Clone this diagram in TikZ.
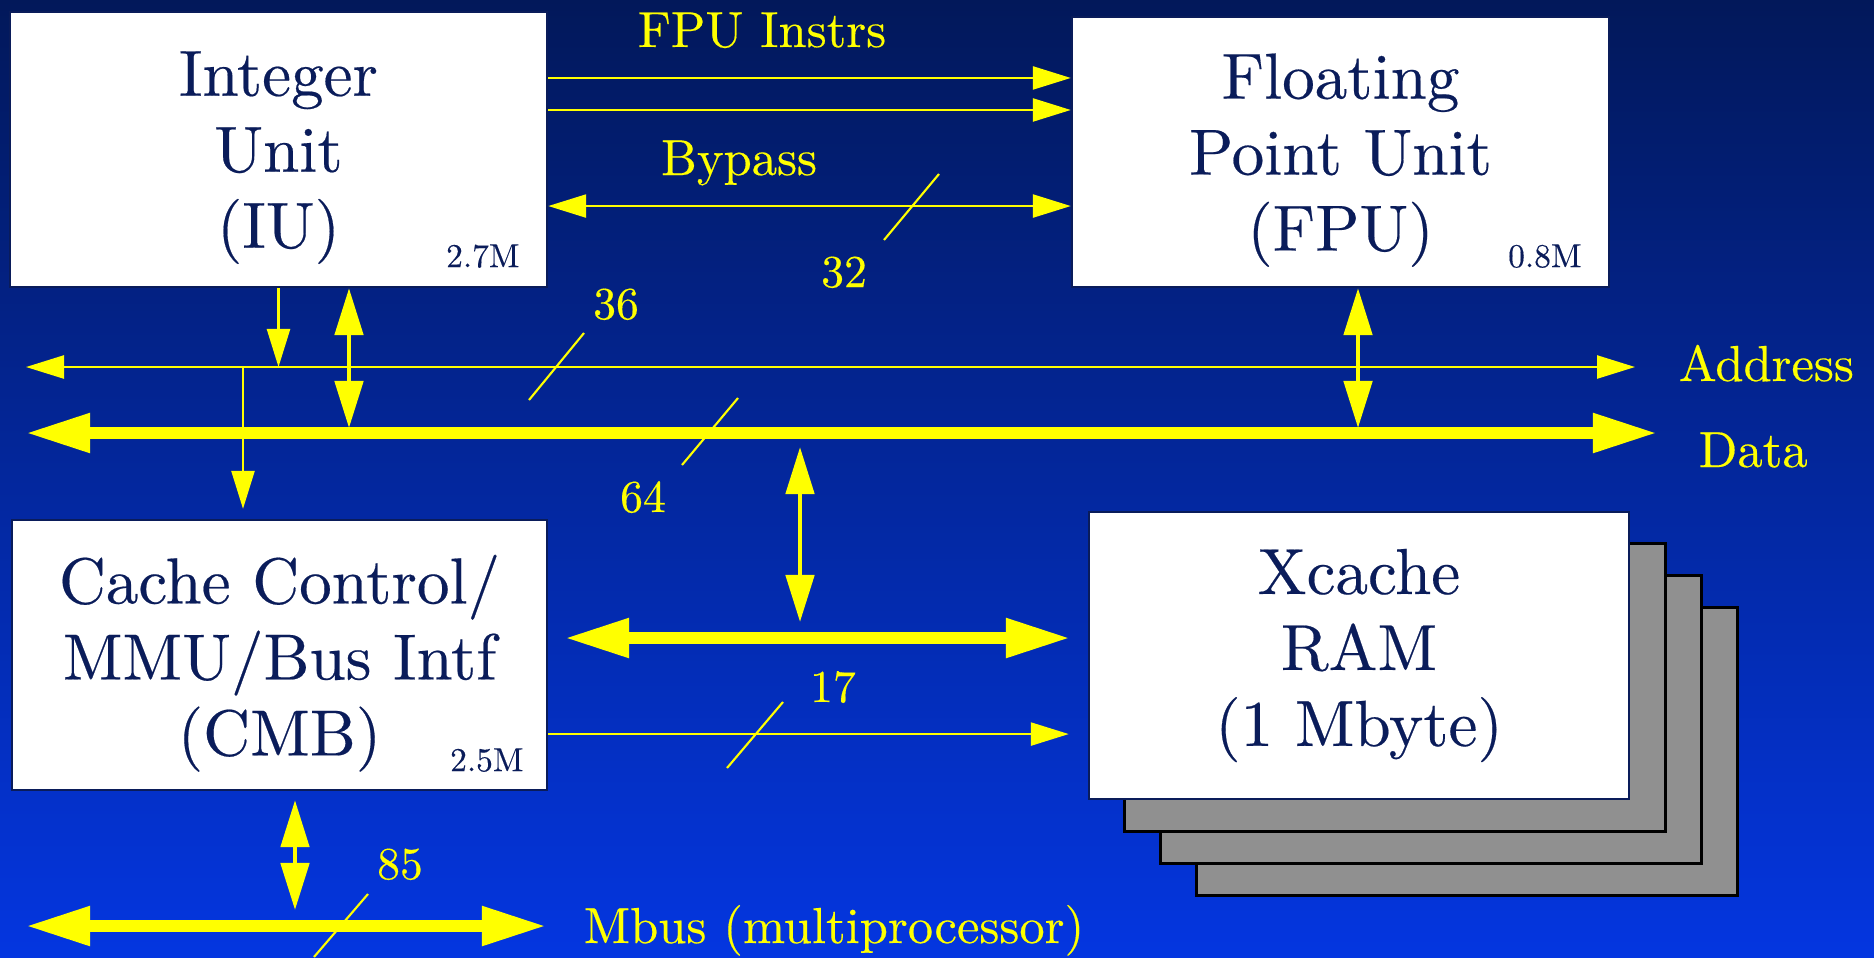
\documentclass[tikz,border=0pt]{standalone}
\usepackage{fontspec}
\setmainfont{lmroman10-regular}[Extension=.otf, FakeBold=0.3]
\usetikzlibrary{arrows.meta}
\definecolor{slidetop}{RGB}{2,24,90}
\definecolor{slidebot}{RGB}{4,54,224}
\definecolor{inkblue}{RGB}{10,28,90}
\definecolor{buscol}{RGB}{255,255,0}
\definecolor{ramgray}{RGB}{144,144,144}
\tikzset{
  unitbox/.style={draw=inkblue, line width=0.6pt, fill=white, text=inkblue, align=center, inner sep=0pt,
    font=\fontsize{18.5}{21.6}\selectfont},
  ramcard/.style={draw=black, line width=0.85pt, fill=ramgray, minimum width=5.40cm, minimum height=2.87cm, inner sep=0pt},
  gatecount/.style={text=inkblue, anchor=base east, inner sep=0pt, font=\fontsize{9.5}{11}\selectfont},
  buslabel/.style={text=buscol, inner sep=0pt, font=\fontsize{14.4}{17}\selectfont},
  widthlabel/.style={text=buscol, inner sep=0pt, anchor=base, font=\fontsize{13}{15}\selectfont},
  thinbus/.style={draw=buscol, line width=0.7pt, -{Triangle[length=0.38cm,width=0.23cm]}},
  thinbusboth/.style={draw=buscol, line width=0.7pt, {Triangle[length=0.38cm,width=0.23cm]}-{Triangle[length=0.38cm,width=0.23cm]}},
  tapbus/.style={draw=buscol, line width=1.4pt, {Triangle[length=0.47cm,width=0.28cm]}-{Triangle[length=0.47cm,width=0.28cm]}},
  fatbus/.style={draw=buscol, line width=3.2pt, {Triangle[length=0.64cm,width=0.37cm]}-{Triangle[length=0.64cm,width=0.37cm]}},
  widthmark/.style={draw=buscol, line width=0.6pt},
}
\begin{document}
\begin{tikzpicture}[x=0.01cm,y=-0.01cm]
	\shade[top color=slidetop, bottom color=slidebot] (0,0) rectangle (1874,957);
	\useasboundingbox (0,0) rectangle (1874,957);

	\node[unitbox, text depth=0pt, minimum width=5.37cm, minimum height=2.75cm] (iu) at (278.5,149.5) {Integer\\Unit\\(IU)};
	\node[unitbox, text depth=0pt, minimum width=5.37cm, minimum height=2.70cm] (fpu) at (1340.5,152) {Floating\\Point Unit\\(FPU)};
	\node[unitbox, text depth=0pt, minimum width=5.35cm, minimum height=2.70cm] (cmb) at (279.5,655) {Cache Control/\\MMU/Bus Intf\\(CMB)};
	\foreach \i in {3,2,1}
		\node[ramcard] (xram\i) at (1359+\i*36,655.5+\i*32) {};
	\node[unitbox, minimum width=5.40cm, minimum height=2.87cm] (xram) at (1359,655.5) {Xcache\\RAM\\(1 Mbyte)};

	\node[gatecount] (iugates) at ([shift={(-28,-21)}]iu.south east) {2.7M};
	\node[gatecount] (fpugates) at ([shift={(-28,-21)}]fpu.south east) {0.8M};
	\node[gatecount] (cmbgates) at ([shift={(-24,-20)}]cmb.south east) {2.5M};

	\coordinate (addrL) at (26,367);
	\coordinate (addrR) at (1635,367);
	\coordinate (dataL) at (26,433);
	\coordinate (dataR) at (1657,433);
	\coordinate (ramL) at (565,638);
	\coordinate (ramR) at (1070,638);
	\coordinate (mbusL) at (26,926);
	\coordinate (mbusR) at (546,926);
	\coordinate (cmbtap) at (243,367);
	\coordinate (iutap) at (349,433);
	\coordinate (fputap) at (1358,433);
	\coordinate (ramtap) at (800,433);
	\coordinate (mbustap) at (295,926);

	\draw[thinbusboth] (addrL) -- (addrR);
	\draw[fatbus] (dataL) -- (dataR);
	\draw[fatbus] (ramL) -- (ramR);
	\draw[fatbus] (mbusL) -- (mbusR);

	\draw[thinbus] ([yshift=0.715cm]iu.east) -- ([yshift=0.715cm]iu.east -| fpu.west);
	\draw[thinbus] ([yshift=0.395cm]iu.east) -- ([yshift=0.395cm]iu.east -| fpu.west);
	\draw[thinbusboth] ([yshift=-0.565cm]iu.east) -- ([yshift=-0.565cm]iu.east -| fpu.west);
	\draw[thinbus, shorten >=0.19cm] ([yshift=-0.79cm]cmb.east) -- ([yshift=-0.79cm]cmb.east -| xram.west);

	\draw[thinbus] (iu.south) -- (iu.south |- addrL);
	\draw[thinbus, shorten >=0.1cm] (cmbtap) -- (cmbtap |- cmb.north);
	\draw[tapbus, shorten >=0.05cm] (iutap |- iu.south) -- (iutap);
	\draw[tapbus, shorten >=0.05cm] (fputap |- fpu.south) -- (fputap);
	\draw[tapbus, shorten <=0.14cm, shorten >=0.16cm] (ramtap) -- (ramtap |- ramL);
	\draw[tapbus, shorten <=0.09cm, shorten >=0.16cm] (mbustap |- cmb.south) -- (mbustap);

	\draw[widthmark] (939,174) -- (884,240);
	\draw[widthmark] (584,333) -- (529,400);
	\draw[widthmark] (738,398) -- (682,465);
	\draw[widthmark] (783,702) -- (727,768);
	\draw[widthmark] (368,894) -- (314,957);

	\node[buslabel, anchor=base] (instrlabel) at (762,47) {FPU Instrs};
	\node[buslabel, anchor=base] (bypasslabel) at (739,175) {Bypass};
	\node[buslabel, anchor=base west] (addrlabel) at (1678,381) {Address};
	\node[buslabel, anchor=base west] (datalabel) at (1698,467) {Data};
	\node[buslabel, anchor=base west] (mbuslabel) at (583,943) {Mbus (multiprocessor)};
	\node[widthlabel] (w32) at (844,287) {32};
	\node[widthlabel] (w36) at (616,319) {36};
	\node[widthlabel] (w64) at (643,512) {64};
	\node[widthlabel] (w17) at (833,702) {17};
	\node[widthlabel] (w85) at (400,879) {85};
\end{tikzpicture}
\end{document}
